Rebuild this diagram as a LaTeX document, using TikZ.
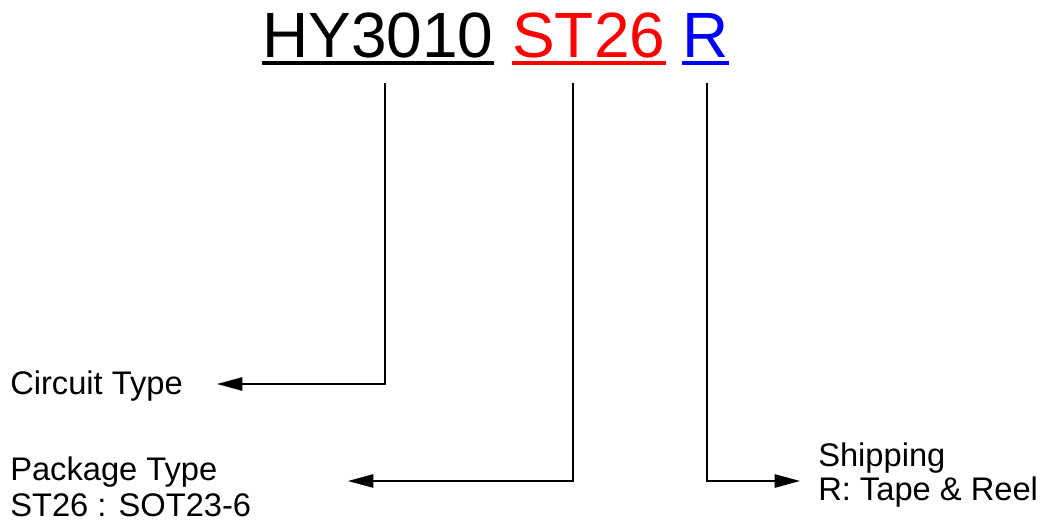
\documentclass[tikz,border=0pt]{standalone}
\usepackage{fontspec}
\setmainfont{Liberation Sans}
\usetikzlibrary{arrows.meta}

\tikzset{
  part/.style={inner sep=0pt,anchor=base west,font=\fontsize{48}{58}\selectfont},
  lbl/.style={inner sep=0pt,anchor=base west,align=left,font=\fontsize{24.5}{27.75}\selectfont},
  lead/.style={line width=1.1pt,-{Triangle[length=19pt,width=10pt]}}
}

\begin{document}
\begin{tikzpicture}[x=.75pt,y=-.75pt]
    \useasboundingbox (0,0) rectangle (1047,527);
    % part number
    \node[part] (hy) at (262,58) {HY3010};
    \node[part,red] (pkg) at (512,58) {ST26};
    \node[part,blue] (ship) at (682,58) {R};
    \foreach \n/\c in {hy/black,pkg/red,ship/blue}
      {\draw[\c,line width=3pt] ([yshift=-3.6pt]\n.base west)--([yshift=-3.6pt]\n.base east);}
    % descriptions (base = last line)
    \node[lbl] (circ) at (10,395) {Circuit Type};
    \node[lbl] (pkgtype) at (10,517) {Package Type\\ST26 : SOT23-6};
    \node[lbl,font=\fontsize{24.5}{24.75}\selectfont] (shipping) at (818,500) {Shipping\\R: Tape \& Reel};
    \coordinate (a1) at (385,83); \coordinate (t1) at (217,384);
    \coordinate (a2) at (573,83); \coordinate (t2) at (348,481);
    \coordinate (a3) at (707,83); \coordinate (t3) at (800,481);
    \draw[lead] (a1) |- (t1);
    \draw[lead] (a2) |- (t2);
    \draw[lead] (a3) |- (t3);
  \end{tikzpicture}
\end{document}
